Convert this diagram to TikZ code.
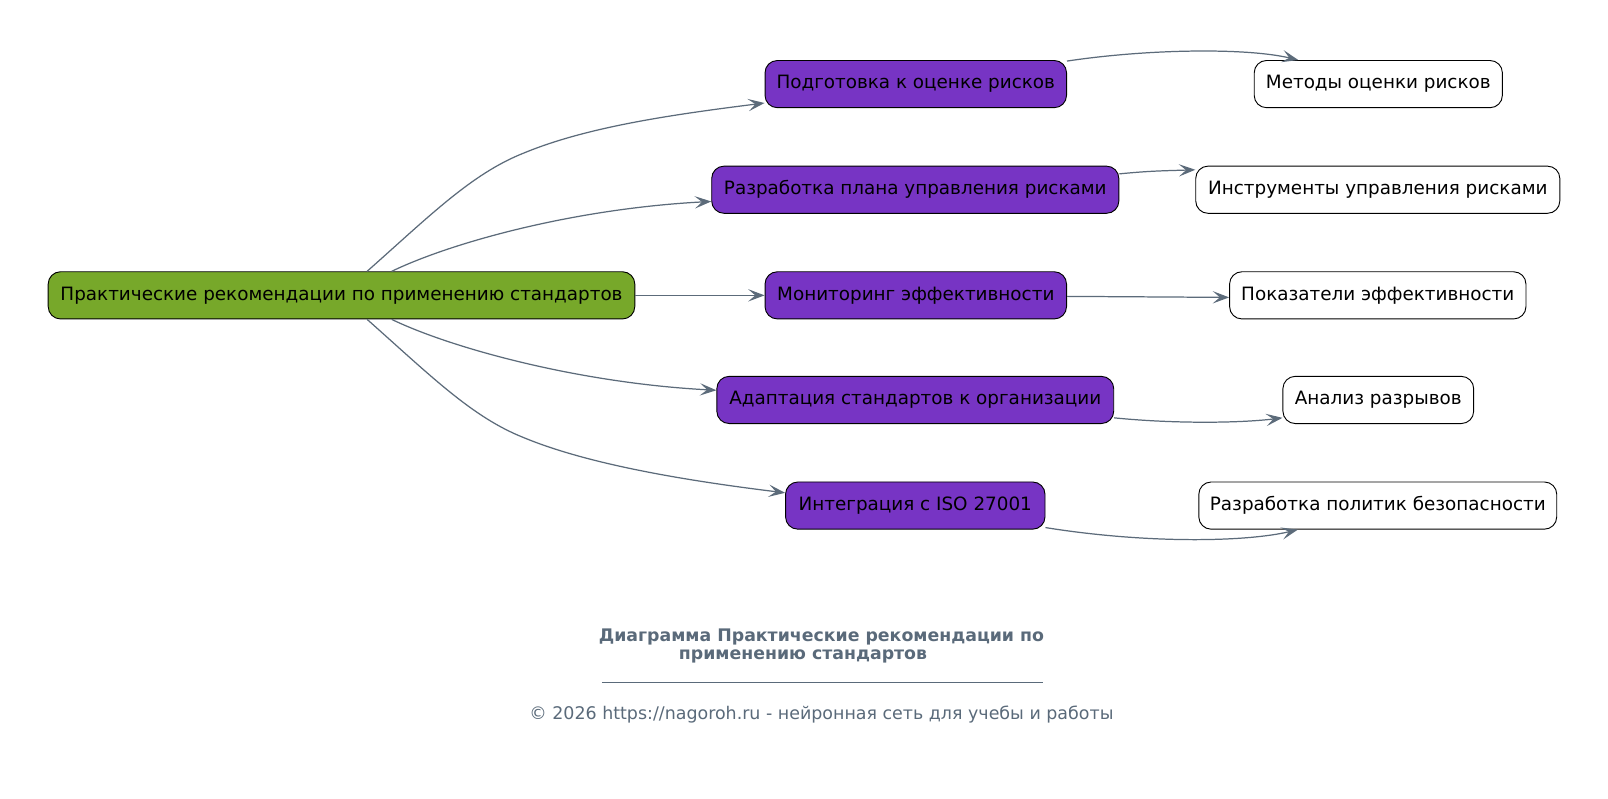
\documentclass[tikz,border=0pt]{standalone}
\usepackage{fontspec}
\setmainfont{DejaVu Sans}
\usetikzlibrary{arrows.meta,calc}
\definecolor{rootc}{HTML}{77A82A}
\definecolor{midc}{HTML}{7734C4}
\definecolor{edgec}{HTML}{5C6B7A}
\definecolor{titlec}{HTML}{5A6A7A}
\tikzset{
  box/.style={draw=black, line width=0.9pt, rounded corners=12pt, minimum height=46pt, inner xsep=0pt, font=\fontsize{17.9}{20}\selectfont, text=black},
  rootbox/.style={box, fill=rootc},
  midbox/.style={box, fill=midc},
  leafbox/.style={box, fill=white},
  conn/.style={draw=edgec, line width=1.2pt, -{Stealth[length=16pt,width=12pt,inset=7pt]}},
}
\begin{document}
\begin{tikzpicture}[x=1pt,y=-1pt]
\useasboundingbox (0,0) rectangle (1568,779);
\fill[white] (0,0) rectangle (1568,779);
\node[rootbox, minimum width=572pt] (root) at (333,288) {Практические рекомендации по применению стандартов};
\node[midbox, minimum width=294pt] (a1) at (893,82) {Подготовка к оценке рисков};
\node[midbox, minimum width=397pt] (a2) at (892.5,185) {Разработка плана управления рисками};
\node[midbox, minimum width=294pt] (a3) at (893,288) {Мониторинг эффективности};
\node[midbox, minimum width=387pt] (a4) at (892.5,390) {Адаптация стандартов к организации};
\node[midbox, minimum width=253pt] (a5) at (892.5,493) {Интеграция с ISO 27001};
\node[leafbox, minimum width=242pt] (b1) at (1344,82) {Методы оценки рисков};
\node[leafbox, minimum width=355pt] (b2) at (1343.5,185) {Инструменты управления рисками};
\node[leafbox, minimum width=289pt] (b3) at (1343.5,288) {Показатели эффективности};
\node[leafbox, minimum width=186pt] (b4) at (1344,390) {Анализ разрывов};
\node[leafbox, minimum width=349pt] (b5) at (1343.5,493) {Разработка политик безопасности};

\draw[conn] ([xshift=25pt]root.north) .. controls +(62,-55) and +(-50,20) .. +(152,-115)
  .. controls +(60,-25) and +(-96,12) .. ([yshift=5pt]a1.south west);
\draw[conn] ([xshift=49pt]root.north) .. controls +(58,-28) and +(-134,7) .. ([yshift=12pt]a2.south west);
\draw[conn] (root.east) -- (a3.west);
\draw[conn] ([xshift=49pt]root.south) .. controls +(58,28) and +(-134,-7) .. ([yshift=-14pt]a4.north west);
\draw[conn] ([xshift=25pt]root.south) .. controls +(62,55) and +(-50,-20) .. +(152,115)
  .. controls +(60,25) and +(-106,-13) .. ([yshift=-11pt]a5.north west);

\draw[conn] ([yshift=-1pt]a1.north east) .. controls +(80,-12) and +(-50,-12) .. ([xshift=-78pt]b1.north);
\draw[conn] ([yshift=-8pt]a2.north east) .. controls +(30,-3) and +(-30,1) .. ([yshift=-4pt]b2.north west);
\draw[conn] ([yshift=-1pt]a3.east) -- ([yshift=-2pt]b3.west);
\draw[conn] ([yshift=6pt]a4.south east) .. controls +(60,6) and +(-40,5) .. ([yshift=6pt]b4.south west);
\draw[conn] ([yshift=2pt]a5.south east) .. controls +(100,16) and +(-50,12) .. ([xshift=-78pt]b5.south);

\node[font=\bfseries\fontsize{16.9}{17}\selectfont, text=titlec, align=center] (title) at (801,630) {Диаграмма Практические рекомендации по\\применению стандартов\hspace*{36pt}};
\draw[titlec, line width=0.6pt] (587,665) -- (1017,665) coordinate (ruleend);
\node[font=\fontsize{17}{17}\selectfont, text=titlec] (footer) at (801,697) {© 2026 https://nagoroh.ru - нейронная сеть для учебы и работы};
\end{tikzpicture}
\end{document}
